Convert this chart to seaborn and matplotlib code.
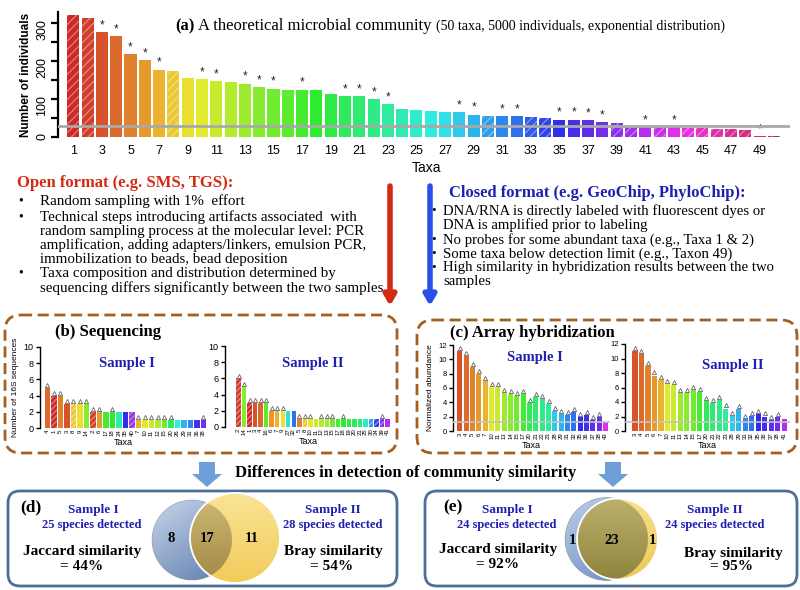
import colorsys
import numpy as np
import pandas as pd
import matplotlib
matplotlib.use("Agg")
import matplotlib.pyplot as plt
from matplotlib.patches import FancyBboxPatch, Circle, Polygon
from matplotlib.colors import to_rgb
import seaborn as sns

# ---------------- data ----------------
taxa = list(range(1, 51))
individuals = [322, 314, 277, 266, 218, 204, 178, 174, 155, 153,
               148, 145, 141, 132, 128, 124, 125, 124, 114, 107,
               107, 100, 87, 74, 71, 68, 66, 66, 59, 55,
               55, 55, 53, 51, 46, 46, 44, 40, 37, 27,
               27, 27, 27, 25, 25, 21, 20, 19, 3, 2]
starred_taxa = [3, 4, 5, 6, 7, 10, 11, 13, 14, 15, 17, 20, 21, 22, 23,
                28, 29, 31, 32, 35, 36, 37, 38, 41, 43, 49]
hatched_taxa = [1, 2, 8, 30, 33, 34, 39, 40, 42, 44, 45, 46, 47, 48, 50]
detection_limit = 29
a_ticks = [str(t) for t in range(1, 50, 2)]

seq_s1_taxa = [4, 1, 5, 3, 8, 9, 14, 2, 6, 17, 18, 24, 35, 40,
               7, 10, 11, 12, 15, 20, 26, 29, 31, 36, 38]
seq_s1_counts = [5, 4, 4, 3, 3, 3, 3, 2, 2, 2, 2, 2, 2, 2,
                 1, 1, 1, 1, 1, 1, 1, 1, 1, 1, 1]
seq_s1_marked = [0, 1, 2, 3, 4, 5, 6, 7, 8, 10, 14, 15, 16, 17, 18, 19, 24]

seq_s2_taxa = [2, 14, 1, 3, 4, 16, 6, 7, 9, 27, 32, 5, 8, 10, 11, 12, 13,
               15, 17, 18, 19, 20, 21, 25, 30, 34, 39, 41]
seq_s2_counts = [6, 5, 3, 3, 3, 3, 2, 2, 2, 2, 2, 1, 1, 1, 1, 1, 1,
                 1, 1, 1, 1, 1, 1, 1, 1, 1, 1, 1]
seq_s2_marked = [0, 1, 2, 3, 4, 5, 6, 7, 8, 11, 12, 13, 15, 16, 17, 19, 26]

arr_s1_taxa = [3, 4, 5, 6, 7, 10, 11, 13, 14, 15, 17, 20, 21, 22, 23,
               28, 29, 31, 32, 35, 36, 37, 38, 43]
arr_s1_abund = [11.2, 10.4, 8.9, 8.0, 7.0, 6.2, 6.2, 5.3, 5.2, 4.9, 5.1, 3.9,
                4.8, 4.4, 3.7, 2.8, 2.4, 2.3, 2.7, 2.0, 2.2, 1.5, 1.9, 1.2]
arr_s2_taxa = [3, 4, 5, 6, 7, 10, 11, 13, 14, 15, 17, 20, 21, 22, 23,
               28, 29, 31, 32, 35, 36, 37, 38, 41]
arr_s2_abund = [11.0, 10.6, 9.0, 7.65, 7.0, 6.5, 6.4, 5.3, 5.2, 5.6, 5.4, 4.1,
                3.8, 4.3, 3.1, 2.1, 3.0, 1.65, 2.1, 2.35, 2.0, 1.55, 1.9, 1.6]
array_detection_limit = 1.2

# ---------------- style ----------------
plt.rcParams['font.family'] = ['Liberation Sans', 'DejaVu Sans']
plt.rcParams['hatch.linewidth'] = 0.9
SERIF = ['Liberation Serif', 'DejaVu Serif']
W, H = 800, 590
RED = '#d42a14'
NAVY = '#1f1fb0'
BROWN = '#a5601f'
FRAME = '#4d6e96'


def taxon_color(t):
    h = (t - 1) / 51.0
    v = 0.80 + 0.12 * min(1.0, min(t - 1, 50 - t) / 6.0)
    return colorsys.hsv_to_rgb(h, 0.80, v)


def lighter(c, f=0.4):
    c = np.array(to_rgb(c))
    return tuple(c + (1 - c) * f)


fig = plt.figure(figsize=(8, 5.9), dpi=100)
fig.patch.set_facecolor('white')
ov = fig.add_axes([0, 0, 1, 1])
ov.set_xlim(0, W)
ov.set_ylim(H, 0)
ov.set_autoscale_on(False)
ov.set_axis_off()


def add_ax(l, t, r, b):
    ax = fig.add_axes([l / W, 1 - b / H, (r - l) / W, (b - t) / H])
    ax.patch.set_visible(False)
    return ax


def style_hatch(ax, tlist, pattern='///'):
    for p in ax.patches:
        i = int(round(p.get_x() + p.get_width() / 2))
        if 0 <= i < len(tlist) and tlist[i] in hatched_taxa:
            p.set_hatch(pattern)
            p.set_edgecolor(lighter(p.get_facecolor()))
            p.set_linewidth(0)


# ---------------- panel (a) ----------------
axa = add_ax(58, 12, 790, 137)
dfa = pd.DataFrame({'taxon': [str(t) for t in taxa], 'n': individuals})
order_a = dfa['taxon'].tolist()
sns.barplot(data=dfa, x='taxon', y='n', hue='taxon', order=order_a, hue_order=order_a,
            palette={str(t): taxon_color(t) for t in taxa}, saturation=1,
            legend=False, width=0.84, ax=axa)
style_hatch(axa, taxa, '////')
for t in starred_taxa:
    axa.text(t - 1, individuals[t - 1] + 2, '*', ha='center', va='bottom',
             fontsize=8.5, color='#222222')
axa.axhline(detection_limit, color='#a9a9a9', lw=2, zorder=5)
axa.set_xlim(-1.07, 50.12)
axa.set_ylim(0, 330)
for s in ['top', 'right', 'bottom']:
    axa.spines[s].set_visible(False)
axa.spines['left'].set_linewidth(1.6)
axa.set_yticks(list(range(0, 301, 50)))
axa.set_yticklabels(['0', '', '100', '', '200', '', '300'])
axa.tick_params(axis='y', labelrotation=90, labelsize=9, width=1.6, length=5, pad=2)
axa.set_xticks(list(range(0, 50, 2)))
axa.set_xticklabels(a_ticks)
axa.tick_params(axis='x', length=0, labelsize=9, pad=6)
axa.set_xlabel('')
axa.set_ylabel('Number of individuals', fontsize=8.5, fontweight='bold', labelpad=3)

r = fig.canvas.get_renderer()
x = 175
for s, size, weight in [('(a)', 12, 'bold'),
                        ('A theoretical microbial community', 12, 'normal'),
                        ('(50 taxa, 5000 individuals, exponential distribution)', 10, 'normal')]:
    tt = ov.text(x, 30, s, fontsize=size, fontweight=weight, family=SERIF,
                 va='baseline', ha='left')
    x += tt.get_window_extent(r).width + 4

ov.text(426, 168, 'Taxa', fontsize=10, ha='center', va='center')

# ---------------- text blocks ----------------
ov.text(17, 183, 'Open format (e.g. SMS, TGS):', color=RED, fontsize=12,
        fontweight='bold', family=SERIF, va='center')
left_lines = [(201, True, 'Random sampling with 1%  effort'),
              (217, True, 'Technical steps introducing artifacts associated  with'),
              (231, False, 'random sampling process at the molecular level: PCR'),
              (245, False, 'amplification, adding adapters/linkers, emulsion PCR,'),
              (259, False, 'immobilization to beads, bead deposition'),
              (273, True, 'Taxa composition and distribution determined by'),
              (288, False, 'sequencing differs significantly between the two samples')]
for y, b, s in left_lines:
    if b:
        ov.text(18, y, '•', fontsize=10, family=SERIF, va='center')
    ov.text(40, y, s, fontsize=10.8, family=SERIF, va='center')

ov.text(449, 193, 'Closed format (e.g. GeoChip, PhyloChip):', color=NAVY, fontsize=12,
        fontweight='bold', family=SERIF, va='center')
right_lines = [(211, True, 'DNA/RNA is directly labeled with fluorescent dyes or'),
               (225, False, 'DNA is amplified prior to labeling'),
               (240, True, 'No probes for some abundant taxa (e.g., Taxa 1 & 2)'),
               (254, True, 'Some taxa below detection limit (e.g., Taxon 49)'),
               (268, True, 'High similarity in hybridization results between the two'),
               (282, False, 'samples')]
for y, b, s in right_lines:
    if b:
        ov.text(431, y, '•', fontsize=9.5, family=SERIF, va='center')
    ov.text(443, y, s, fontsize=10.6, family=SERIF, va='center')

ov.annotate('', xy=(390, 306), xytext=(390, 186),
            arrowprops=dict(arrowstyle='-|>,head_length=0.6,head_width=0.35',
                            lw=4, color=RED, shrinkA=0, shrinkB=0))
ov.annotate('', xy=(430, 306), xytext=(430, 186),
            arrowprops=dict(arrowstyle='-|>,head_length=0.6,head_width=0.35',
                            lw=4, color='#2a4fe8', shrinkA=0, shrinkB=0))

# ---------------- dashed boxes ----------------
for (l, t, rr, b) in [(5, 315, 397, 453), (417, 320, 797, 453)]:
    ov.add_patch(FancyBboxPatch((l, t), rr - l, b - t,
                                boxstyle='round,pad=0,rounding_size=16',
                                fc='none', ec=BROWN, lw=2, ls=(0, (4, 2))))
ov.text(55, 332, '(b) Sequencing', fontsize=12, fontweight='bold', family=SERIF, va='center')
ov.text(450, 333, '(c) Array hybridization', fontsize=12, fontweight='bold', family=SERIF,
        va='center')


def small_bar(px, tl, vals, xlim, ylim, yticks, marked, title, title_xy, ylabel=None,
              ylab_x=None, hline=None, tick_fs=6.5):
    ax = add_ax(*px)
    df = pd.DataFrame({'taxon': [str(t) for t in tl], 'v': vals})
    order = df['taxon'].tolist()
    sns.barplot(data=df, x='taxon', y='v', hue='taxon', order=order, hue_order=order,
                palette={str(t): taxon_color(t) for t in tl}, saturation=1,
                legend=False, width=0.8, ax=ax)
    style_hatch(ax, tl, '//////')
    mx = list(marked)
    ax.plot(mx, [vals[i] + (ylim[1] * 0.035) for i in mx], ls='none', marker='^',
            ms=3, mfc='white', mec='#666666', mew=0.6)
    if hline is not None:
        ax.axhline(hline, color='#c4c4c4', lw=1.2, zorder=5)
    ax.set_xlim(*xlim)
    ax.set_ylim(*ylim)
    for s in ['top', 'right', 'bottom']:
        ax.spines[s].set_visible(False)
    ax.spines['left'].set_linewidth(1.0)
    ax.set_yticks(yticks)
    ax.tick_params(axis='y', labelsize=tick_fs, length=3, width=1, pad=1.5)
    ax.tick_params(axis='x', labelrotation=90, labelsize=4.3, length=0, pad=1)
    ax.set_xlabel('Taxa', fontsize=6.5, labelpad=1)
    ax.set_ylabel('')
    if ylabel:
        ov.text(ylab_x, (px[1] + px[3]) / 2, ylabel, rotation=90, fontsize=6,
                ha='center', va='center')
    ov.text(title_xy[0], title_xy[1], title, color=NAVY, fontsize=10.5,
            fontweight='bold', family=SERIF, ha='center', va='center')
    return ax


small_bar((40, 347, 207, 428), seq_s1_taxa, seq_s1_counts, (-1.15, 24.55), (0, 10),
          [0, 2, 4, 6, 8, 10], seq_s1_marked, 'Sample I', (127, 363),
          ylabel='Number of 16S sequences', ylab_x=16)
small_bar((225, 346, 391, 427), seq_s2_taxa, seq_s2_counts, (-2.45, 27.6), (0, 10),
          [0, 2, 4, 6, 8, 10], seq_s2_marked, 'Sample II', (313, 364))
small_bar((453, 345, 610, 431), arr_s1_taxa, arr_s1_abund, (-1.1, 23.7), (0, 12),
          [0, 2, 4, 6, 8, 10, 12], list(range(23)), 'Sample I', (535, 358),
          ylabel='Normalized abundance', ylab_x=431, hline=array_detection_limit,
          tick_fs=5.5)
small_bar((625, 344, 790, 431), arr_s2_taxa, arr_s2_abund, (-1.54, 23.9), (0, 12),
          [0, 2, 4, 6, 8, 10, 12], list(range(23)), 'Sample II', (733, 365),
          hline=array_detection_limit, tick_fs=5.5)

# ---------------- bottom ----------------
ov.text(406, 473, 'Differences in detection of community similarity', fontsize=12,
        fontweight='bold', family=SERIF, ha='center', va='center')
for cx in (207, 613):
    pts = [(cx - 8, 462), (cx + 8, 462), (cx + 8, 474), (cx + 15, 474), (cx, 487),
           (cx - 15, 474), (cx - 8, 474)]
    ov.add_patch(Polygon(pts, closed=True, fc='#6f9fd8', ec='none'))

for (l, t, rr, b) in [(8, 491, 397, 586), (425, 491, 797, 586)]:
    ov.add_patch(FancyBboxPatch((l, t), rr - l, b - t,
                                boxstyle='round,pad=0,rounding_size=12',
                                fc='none', ec=FRAME, lw=2))


def venn(cA, rA, cB, rB, colA, colB, colI, box):
    x0, x1, y0, y1 = box
    ss = 4
    nx, ny = (x1 - x0) * ss, (y1 - y0) * ss
    xs = x0 + (np.arange(nx) + 0.5) / ss
    ys = y0 + (np.arange(ny) + 0.5) / ss
    X, Y = np.meshgrid(xs, ys)
    inA = (X - cA[0]) ** 2 + (Y - cA[1]) ** 2 <= rA ** 2
    inB = (X - cB[0]) ** 2 + (Y - cB[1]) ** 2 <= rB ** 2
    tA = np.clip(0.4 * (X - cA[0] + rA) / (2 * rA) + 0.6 * (Y - cA[1] + rA) / (2 * rA), 0, 1)
    tB = np.clip((Y - cB[1] + rB) / (2 * rB), 0, 1)
    img = np.zeros((ny, nx, 4))

    def fill(mask, cols, tt):
        c0 = np.array(to_rgb(cols[0]))
        c1 = np.array(to_rgb(cols[1]))
        col = c0 * (1 - tt[..., None]) + c1 * tt[..., None]
        img[mask, :3] = col[mask]
        img[mask, 3] = 1

    fill(inA & ~inB, colA, tA)
    fill(inB & ~inA, colB, tB)
    fill(inA & inB, colI, tB)
    ov.imshow(img, extent=(x0, x1, y1, y0), interpolation='antialiased', zorder=2,
              aspect='auto')
    ov.add_patch(Circle(cB, rB, fc='none', ec='white', lw=1.3, zorder=3))


venn((192, 540), 40, (235, 538), 45,
     ('#c9d6ec', '#5b7bab'), ('#fae395', '#f1cc5a'), ('#cfba76', '#a08945'),
     (145, 288, 488, 588))
venn((606.5, 539), 41.5, (617.5, 539), 40.5,
     ('#bccfeb', '#6688bd'), ('#f8e08e', '#ecc957'), ('#bdb06c', '#8f843e'),
     (560, 665, 492, 588))
ov.set_xlim(0, W)
ov.set_ylim(H, 0)

seq1, seq2 = set(seq_s1_taxa), set(seq_s2_taxa)
arr1, arr2 = set(arr_s1_taxa), set(arr_s2_taxa)
num_kw = dict(fontsize=10.5, fontweight='bold', family=SERIF, ha='center', va='center',
              zorder=4)
ov.text(171, 538, str(len(seq1 - seq2)), **num_kw)
ov.text(207, 538, str(len(seq1 & seq2)), **num_kw)
ov.text(252, 538, str(len(seq2 - seq1)), **num_kw)
ov.text(572, 540, str(len(arr1 - arr2)), **num_kw)
ov.text(612, 540, str(len(arr1 & arr2)), **num_kw)
ov.text(652, 540, str(len(arr2 - arr1)), **num_kw)

lab_kw = dict(fontweight='bold', family=SERIF, ha='center', va='center')
ov.text(20, 507, '(d)', fontsize=12.5, fontweight='bold', family=SERIF, va='center')
ov.text(443, 507, '(e)', fontsize=12.5, fontweight='bold', family=SERIF, va='center')
for x, s in [(93, 'Sample I'), (333, 'Sample II')]:
    ov.text(x, 510, s, fontsize=9.5, color=NAVY, **lab_kw)
ov.text(92, 525, f'{len(seq1)} species detected', fontsize=9, color=NAVY, **lab_kw)
ov.text(333, 525, f'{len(seq2)} species detected', fontsize=9, color=NAVY, **lab_kw)
ov.text(82, 552, 'Jaccard similarity', fontsize=11, **lab_kw)
ov.text(82, 567, '= 44%', fontsize=11, **lab_kw)
ov.text(333, 552, 'Bray similarity', fontsize=11, **lab_kw)
ov.text(332, 567, '= 54%', fontsize=11, **lab_kw)

ov.text(507, 510, 'Sample I', fontsize=9.5, color=NAVY, **lab_kw)
ov.text(507, 525, f'{len(arr1)} species detected', fontsize=9, color=NAVY, **lab_kw)
ov.text(715, 510, 'Sample II', fontsize=9.5, color=NAVY, **lab_kw)
ov.text(715, 525, f'{len(arr2)} species detected', fontsize=9, color=NAVY, **lab_kw)
ov.text(498, 550, 'Jaccard similarity', fontsize=11, **lab_kw)
ov.text(497, 565, '= 92%', fontsize=11, **lab_kw)
ov.text(733, 553, 'Bray similarity', fontsize=11, **lab_kw)
ov.text(732, 567, '= 95%', fontsize=11, **lab_kw)

fig.savefig('out.png', dpi=100, facecolor='white')
